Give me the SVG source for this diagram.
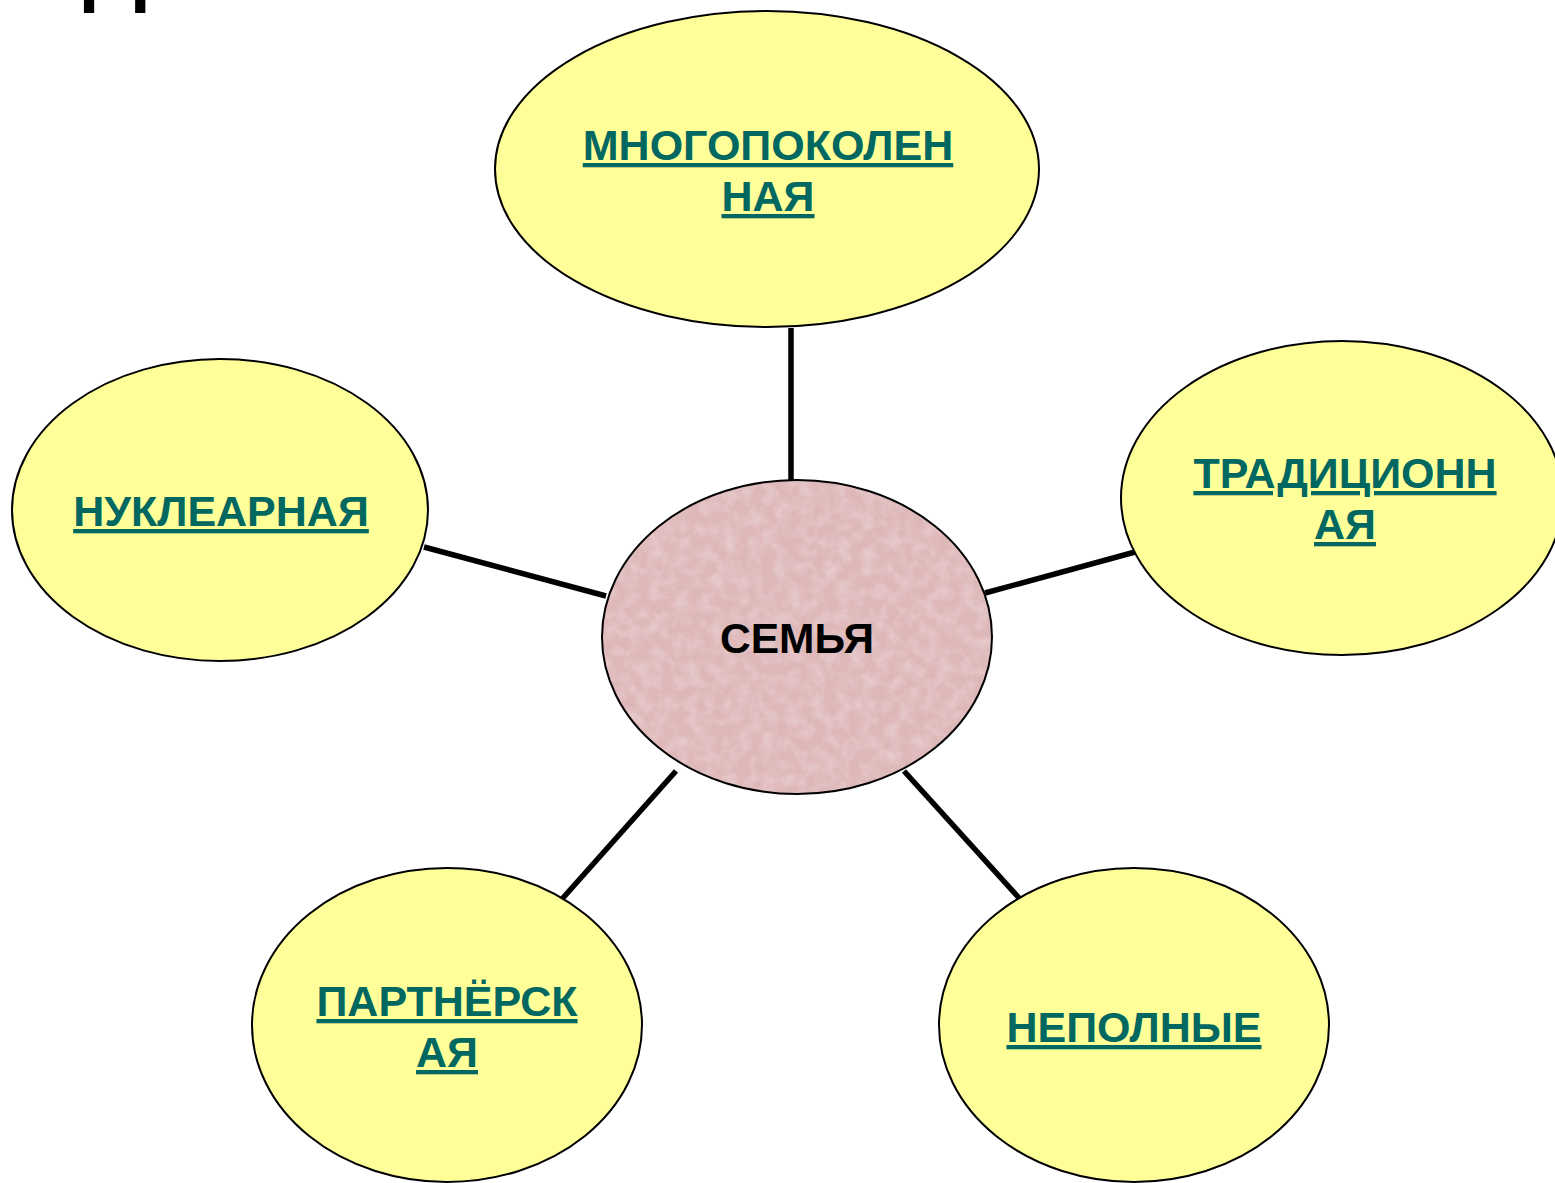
<svg xmlns="http://www.w3.org/2000/svg" width="1555" height="1183" viewBox="0 0 1555 1183">
  <style>
    .leaf { fill: #FFFF99; stroke: #000; stroke-width: 2; }
    .lbl { font-family: "Liberation Sans", Arial, sans-serif; font-weight: bold; font-size: 43px; fill: #006860; text-anchor: middle; text-decoration: underline; }
    .ctr { font-family: "Liberation Sans", Arial, sans-serif; font-weight: bold; font-size: 42.5px; fill: #000; text-anchor: middle; }
    .conn line { stroke: #000; stroke-width: 5.5; }
  </style>
  <defs>
    <filter id="tex" x="0" y="0" width="100%" height="100%">
      <feTurbulence type="fractalNoise" baseFrequency="0.08" numOctaves="4" seed="3" result="n"/>
      <feColorMatrix in="n" type="matrix" values="0 0 0 0 0.84  0 0 0 0 0.68  0 0 0 0 0.69  0 0 0 -1.2 0.75" result="c"/>
      <feComposite in="c" in2="SourceGraphic" operator="in"/>
    </filter>
  </defs>
  <rect width="1555" height="1183" fill="#fff"/>
  <text x="75" y="13" font-family="Liberation Sans, Arial, sans-serif" font-size="110" fill="#000">П</text>

  <g id="connectors" class="conn">
    <line x1="791" y1="328" x2="791" y2="481"/>
    <line x1="424" y1="547" x2="606" y2="596"/>
    <line x1="985" y1="593" x2="1135" y2="552"/>
    <line x1="676" y1="771" x2="562" y2="899"/>
    <line x1="904" y1="771" x2="1019" y2="898"/>
  </g>

  <g id="node-center">
    <ellipse cx="797" cy="637" rx="195" ry="157" fill="#deb8b9"/>
    <ellipse cx="797" cy="637" rx="195" ry="157" fill="#deb8b9" filter="url(#tex)"/>
    <ellipse cx="797" cy="637" rx="195" ry="157" fill="none" stroke="#000" stroke-width="2"/>
    <text class="ctr" x="797" y="653">СЕМЬЯ</text>
  </g>

  <g id="node-top">
    <ellipse class="leaf" cx="767" cy="169" rx="272" ry="158"/>
    <text class="lbl" x="768" y="160">МНОГОПОКОЛЕН</text>
    <text class="lbl" x="768" y="211">НАЯ</text>
  </g>

  <g id="node-left">
    <ellipse class="leaf" cx="220" cy="510" rx="208" ry="151"/>
    <text class="lbl" x="221" y="526">НУКЛЕАРНАЯ</text>
  </g>

  <g id="node-right">
    <ellipse class="leaf" cx="1342" cy="498" rx="221" ry="157"/>
    <text class="lbl" x="1345" y="488">ТРАДИЦИОНН</text>
    <text class="lbl" x="1345" y="539">АЯ</text>
  </g>

  <g id="node-bottom-left">
    <ellipse class="leaf" cx="447" cy="1025" rx="195" ry="157"/>
    <text class="lbl" x="447" y="1016">ПАРТНЁРСК</text>
    <text class="lbl" x="447" y="1067">АЯ</text>
  </g>

  <g id="node-bottom-right">
    <ellipse class="leaf" cx="1134" cy="1025" rx="195" ry="157"/>
    <text class="lbl" x="1134" y="1042">НЕПОЛНЫЕ</text>
  </g>
</svg>
